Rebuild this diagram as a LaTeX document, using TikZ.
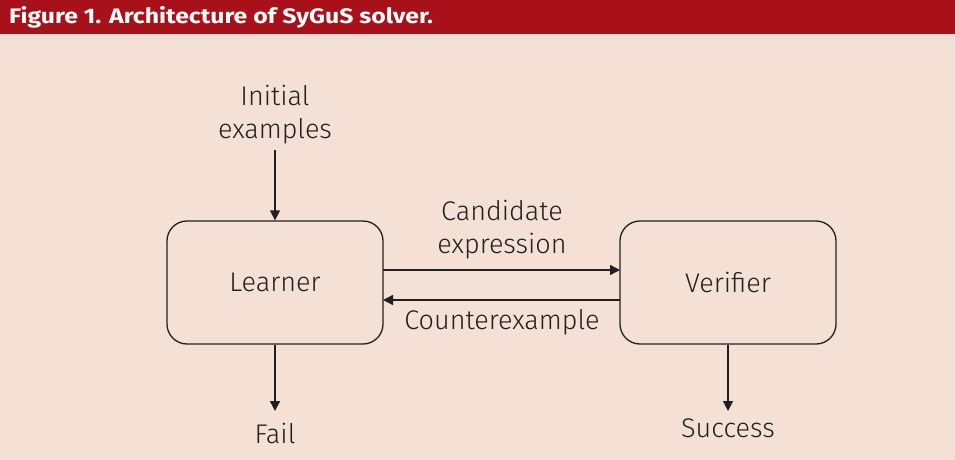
\documentclass[tikz,border=0pt]{standalone}
\usepackage{fontspec}
\setmainfont{Fira Sans}[UprightFont={* Light},BoldFont={* Bold}]
\usetikzlibrary{arrows.meta}
\definecolor{bgc}{HTML}{F5E0D6}
\definecolor{barc}{HTML}{A8101A}
\definecolor{ink}{HTML}{231F20}
\begin{document}
\begin{tikzpicture}[x=1pt,y=-1pt,
  box/.style={draw=ink,line width=1.3pt,rounded corners=20pt,minimum width=216pt,minimum height=123pt,inner sep=0pt},
  lbl/.style={text=ink,font=\fontsize{27}{33}\selectfont,align=center,inner sep=0pt},
  conn/.style={draw=ink,line width=1.4pt,-{Triangle[length=10pt,width=10pt]}}]
\useasboundingbox (0,0) rectangle (955,460);
\fill[bgc] (0,0) rectangle (955,460);
\fill[barc] (0,0) rectangle (955,34);
\node[anchor=west,text=white,inner sep=0pt,font=\bfseries\fontsize{21}{24}\selectfont] (title) at (9,17) {\scalebox{1.18}[1]{Figure 1. Architecture of SyGuS solver.}};
\node[box] (learner) at (275,282.5) {};
\node[box] (verifier) at (728,282.5) {};
\node[lbl] at (learner.center) (lt) {Learner};
\node[lbl] at (verifier.center) (vt) {Verifier};
\node[lbl] (init) at (275,115) {Initial\\examples};
\node[lbl] (cand) at (502,230) {Candidate\\expression};
\node[lbl] (cex) at (502,322) {Counterexample};
\node[lbl] (fail) at (275,433) {Fail};
\node[lbl] (succ) at (728,428) {Success};
\coordinate (is) at (275,150);
\coordinate (a1) at (383,270);
\coordinate (a2) at (620,270);
\coordinate (b1) at (620,300);
\coordinate (b2) at (383,300);
\coordinate (fe) at (275,411);
\coordinate (se) at (728,411);
\draw[conn] (is) -- (learner.north);
\draw[conn] (a1) -- (a2);
\draw[conn] (b1) -- (b2);
\draw[conn] (learner.south) -- (fe);
\draw[conn] (verifier.south) -- (se);
\end{tikzpicture}
\end{document}
